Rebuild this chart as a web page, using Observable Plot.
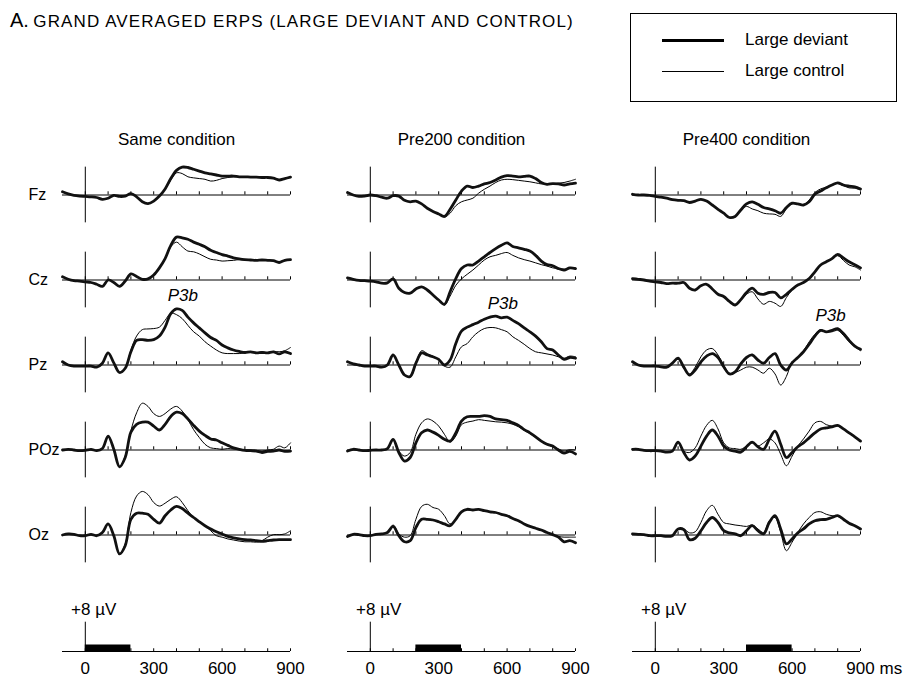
<!DOCTYPE html>
<html>
<head>
<meta charset="utf-8">
<script src="https://cdn.jsdelivr.net/npm/d3@7"></script>
<script src="https://cdn.jsdelivr.net/npm/@observablehq/plot@0.6"></script>
<style>
  body { margin: 0; background: #fff; }
  #chart { position: relative; width: 910px; height: 682px; font-family: "Liberation Sans", Arial, Helvetica, sans-serif; color: #000; overflow: hidden; }
  #title { position: absolute; left: 10px; top: 8px; white-space: nowrap; line-height: 24px; }
  #title .a { font-size: 20px; }
  #title .t { font-size: 17px; letter-spacing: 1.1px; }
  #legend { position: absolute; left: 630px; top: 13px; width: 267px; height: 89px; border: 1px solid #000; box-sizing: border-box; }
  #legend .row { position: absolute; left: 0; height: 20px; display: flex; align-items: center; font-size: 17px; white-space: nowrap; }
  #legend .sw { display: inline-block; width: 62px; margin-left: 31px; margin-right: 21px; border-top-style: solid; border-top-color: #000; }
  #chart svg { position: absolute; left: 0; }
</style>
</head>
<body>
<div id="chart">
  <div id="title"><span class="a">A.</span> <span class="t">GRAND AVERAGED ERPS (LARGE DEVIANT AND CONTROL)</span></div>
  <div id="legend">
    <div class="row" style="top:16px"><span class="sw" style="border-top-width:3px"></span>Large deviant</div>
    <div class="row" style="top:47px"><span class="sw" style="border-top-width:1px"></span>Large control</div>
  </div>
</div>
<script>
// ---- sampling grid (ms) ----
const times = [-100, -75, -50, -25, 0, 25, 50, 75, 100, 125, 150, 175, 200, 225, 250, 275, 300, 325, 350, 375, 400, 425, 450, 475, 500, 525, 550, 575, 600, 625, 650, 675, 700, 725, 750, 775, 800, 825, 850, 875, 900];

const conditions = ["Same condition", "Pre200 condition", "Pre400 condition"];
const electrodes = ["Fz", "Cz", "Pz", "POz", "Oz"];
const seriesNames = ["Large deviant", "Large control"];

// ---- Same condition (µV) ----
const sameFzDeviant = [0.9, 0.3, -0.1, -0.3, -0.4, -0.5, -0.7, -1.2, -0.9, -0.1, -0.4, -0.3, 0.4, -0.5, -1.9, -2.4, -1.7, -0.3, 1.7, 4.6, 6.9, 7.8, 7.7, 7.2, 6.7, 6.2, 5.9, 5.6, 5.3, 5.3, 5.3, 5.1, 5.1, 5.0, 5.0, 4.9, 4.9, 4.7, 4.2, 4.6, 5.0];
const sameFzControl = [0.9, 0.3, -0.1, -0.3, -0.4, -0.5, -0.7, -1.2, -0.9, -0.1, -0.4, -0.3, 0.4, -0.5, -1.9, -2.4, -1.7, -0.3, 1.5, 4.2, 6.2, 6.0, 5.1, 4.8, 4.6, 4.4, 3.9, 4.1, 4.6, 4.9, 5.1, 5.1, 5.1, 5.0, 5.0, 4.9, 4.9, 4.7, 4.3, 4.6, 5.0];
const sameCzDeviant = [0.9, 0.2, -0.2, -0.3, -0.5, -0.7, -1.2, -1.8, 0.0, -0.7, -1.8, -0.3, 1.7, 1.0, 0.2, 0.3, 1.4, 3.4, 6.0, 9.7, 12.0, 11.8, 11.4, 10.6, 10.0, 9.3, 8.3, 7.7, 7.1, 6.7, 6.2, 5.9, 5.7, 5.6, 5.5, 5.6, 5.5, 5.4, 4.9, 5.5, 5.7];
const sameCzControl = [0.9, 0.2, -0.2, -0.3, -0.5, -0.7, -1.2, -1.8, 0.0, -0.7, -1.8, -0.3, 1.7, 1.0, 0.2, 0.3, 1.4, 3.4, 5.8, 9.3, 10.6, 9.3, 8.1, 7.9, 7.3, 6.5, 5.8, 5.6, 5.3, 5.4, 5.5, 5.7, 5.6, 5.6, 5.5, 5.6, 5.5, 5.4, 5.0, 5.5, 5.7];
const samePzDeviant = [0.9, 0, -0.3, -0.3, -0.3, -0.3, -0.6, 0.5, 3.4, 0.6, -2.1, -0.9, 3.7, 6.9, 7.1, 6.9, 7.1, 8.1, 10.6, 14.4, 15.7, 15.3, 13.4, 11.8, 10.4, 9.0, 7.7, 6.9, 5.6, 4.8, 4.2, 3.8, 3.5, 3.7, 3.4, 3.5, 3.4, 3.7, 3.1, 3.7, 3.2];
const samePzControl = [0.9, 0, -0.3, -0.3, -0.3, -0.3, -0.6, 0.5, 3.4, 0.6, -2.1, -0.9, 4.2, 8.1, 9.9, 10.1, 10.2, 10.6, 12.5, 14.5, 14.1, 13.0, 11.1, 9.3, 8.1, 6.5, 5.3, 4.2, 3.4, 3.2, 3.2, 3.2, 3.4, 3.7, 3.4, 3.7, 3.4, 3.8, 3.7, 4.0, 4.9];
const samePOzDeviant = [0, 0.2, 0, -0.2, -0.1, 0.2, -0.2, 0.4, 3.9, 0.2, -4.7, -2.1, 5.0, 7.2, 7.8, 7.8, 6.7, 5.6, 7.2, 9.4, 10.6, 10.2, 8.7, 6.9, 5.3, 4.1, 3.1, 2.8, 2.0, 1.3, 0.6, 0.2, -0.1, -0.2, -0.3, -0.7, -0.4, -0.3, 0, -0.4, -0.3];
const samePOzControl = [0, 0.2, 0, -0.2, -0.1, 0.2, -0.2, 0.4, 3.9, 0.2, -4.7, -1.7, 5.4, 10.4, 13.1, 12.2, 10.2, 9.4, 10.2, 11.5, 12.2, 10.9, 8.5, 5.7, 3.5, 1.6, 0.6, 0.4, 0.2, 0.4, 0.3, 0.2, 0.1, 0, -0.1, -0.3, 0, 0.2, 1.1, 0.6, 2.0];
const sameOzDeviant = [0, 0.3, 0.2, -0.2, -0.2, 0.2, -0.2, 0.7, 3.1, -0.2, -5.3, -3.0, 4.4, 6.1, 6.1, 5.8, 4.4, 3.3, 5.4, 7.0, 8.0, 7.4, 6.1, 4.9, 3.7, 2.6, 1.7, 0.9, 0.3, -0.4, -0.8, -1.1, -1.3, -1.4, -1.6, -1.8, -1.6, -1.4, -1.3, -1.3, -1.3];
const sameOzControl = [0, 0.3, 0.2, -0.2, -0.2, 0.2, -0.2, 0.7, 3.1, -0.2, -5.3, -2.5, 6.3, 10.9, 12.2, 11.3, 9.1, 8.1, 8.9, 10.0, 10.7, 9.1, 6.8, 4.9, 3.7, 2.6, 1.2, -0.2, -0.6, -1.1, -1.4, -1.7, -1.9, -1.9, -2.0, -1.6, -0.6, 0.1, 0.1, 0.3, 1.2];

// ---- Pre200 condition (µV) ----
const pre200FzDeviant = [0.7, 0, -0.4, -0.3, 0, -0.2, -0.6, -0.9, -0.2, -0.3, -1.5, -1.9, -1.7, -2.5, -3.7, -4.6, -5.3, -6.0, -4.0, -1.4, 1.1, 2.5, 2.1, 2.5, 3.1, 3.5, 4.2, 5.0, 5.4, 5.3, 5.1, 5.2, 5.3, 4.6, 3.5, 3.0, 3.2, 3.1, 2.8, 3.1, 3.3];
const pre200FzControl = [0.7, 0, -0.4, -0.3, 0, -0.2, -0.6, -0.9, -0.2, -0.3, -1.5, -1.9, -1.7, -2.5, -3.7, -4.6, -5.3, -6.2, -5.1, -3.0, -1.9, -1.4, -0.9, 0.5, 1.6, 2.5, 3.5, 4.2, 4.4, 4.3, 4.1, 3.9, 3.7, 3.4, 3.1, 3.1, 3.1, 3.3, 3.5, 3.9, 4.4];
const pre200CzDeviant = [0.6, 0.2, -0.1, -0.2, -0.3, -0.5, -0.9, -0.8, 0.3, -2.3, -3.5, -3.7, -2.5, -1.9, -2.8, -4.2, -5.6, -6.8, -3.3, 0.4, 3.2, 4.2, 4.2, 5.3, 6.5, 7.7, 8.8, 9.7, 10.4, 9.4, 9.0, 8.6, 8.1, 6.9, 5.3, 4.3, 4.0, 3.2, 2.8, 3.4, 3.2];
const pre200CzControl = [0.6, 0.2, -0.1, -0.2, -0.3, -0.5, -0.9, -0.8, 0.3, -2.3, -3.5, -3.7, -2.5, -1.9, -2.8, -4.2, -5.7, -7.0, -4.5, -1.5, 0.3, 1.6, 2.8, 4.2, 5.6, 6.5, 6.9, 7.4, 7.7, 6.9, 6.2, 5.7, 5.3, 4.8, 4.3, 3.9, 3.4, 3.2, 3.0, 3.2, 3.4];
const pre200PzDeviant = [0.9, 0.3, 0, -0.3, -0.3, -0.3, -0.6, 0, 2.8, 0, -2.8, -3.2, 0.5, 3.4, 2.8, 2.3, 1.6, 0, 1.4, 6.0, 9.5, 10.6, 11.3, 12.0, 12.8, 13.4, 13.7, 13.2, 13.4, 12.5, 11.6, 10.4, 9.3, 8.1, 6.5, 4.6, 4.2, 2.8, 1.6, 2.1, 1.9];
const pre200PzControl = [0.9, 0.3, 0, -0.3, -0.3, -0.3, -0.6, 0, 2.8, 0, -2.8, -3.4, 0.3, 4.0, 3.2, 2.4, 1.6, -0.3, -0.6, 2.3, 5.1, 6.0, 7.9, 9.3, 10.2, 10.5, 10.4, 9.9, 9.3, 7.9, 6.9, 5.8, 4.6, 3.7, 3.4, 3.1, 2.8, 2.3, 1.9, 2.5, 2.3];
const pre200POzDeviant = [-0.3, 0.2, 0, -0.2, -0.1, 0, 0, 0.4, 3.0, -0.7, -3.1, -2.1, 2.0, 4.8, 5.6, 5.0, 4.1, 3.0, 2.5, 4.8, 8.1, 9.3, 9.4, 9.4, 9.6, 9.4, 8.7, 8.5, 8.3, 7.6, 6.9, 5.7, 4.8, 3.7, 2.5, 1.6, 1.1, 0, -0.9, -0.4, -1.1];
const pre200POzControl = [-0.3, 0.2, 0, -0.2, -0.1, 0, 0, 0.4, 2.8, -0.3, -1.7, -0.7, 4.4, 7.6, 8.7, 8.1, 6.7, 4.4, 2.2, 3.9, 7.1, 7.8, 8.1, 8.5, 8.3, 8.1, 7.9, 7.8, 7.6, 7.2, 6.5, 5.5, 4.6, 3.5, 2.4, 1.6, 1.0, 0.3, -0.3, 0.1, 0];
const pre200OzDeviant = [-0.4, 0.2, 0.1, -0.2, -0.2, 0.2, 0.3, 0.7, 2.4, -0.2, -1.9, -1.6, 2.1, 4.4, 4.4, 4.2, 3.7, 3.1, 2.6, 4.4, 6.5, 7.2, 7.0, 7.2, 6.8, 6.5, 6.3, 5.8, 5.4, 4.6, 4.0, 3.1, 2.4, 1.9, 1.4, 0.7, 0.1, -0.6, -1.9, -1.6, -2.2];
const pre200OzControl = [-0.4, 0.2, 0.1, -0.2, -0.2, 0.2, 0.3, 0.7, 2.8, 0.3, -0.6, -0.2, 4.4, 8.0, 8.6, 7.7, 7.2, 5.4, 3.1, 4.4, 6.5, 7.0, 7.0, 7.2, 6.8, 6.5, 6.3, 5.8, 5.4, 4.6, 4.0, 3.1, 2.4, 1.9, 1.4, 0.7, 0.1, -0.4, -0.6, -0.6, -0.6];

// ---- Pre400 condition (µV) ----
const pre400FzDeviant = [0.2, 0, 0, -0.1, -0.4, -0.6, -0.9, -1.3, -1.5, -1.6, -2.1, -1.7, -1.2, -1.7, -2.8, -4.0, -5.1, -6.3, -6.0, -4.2, -2.5, -1.9, -2.6, -3.5, -3.9, -4.4, -5.1, -3.5, -2.3, -2.5, -2.8, -1.9, 0.2, 1.1, 2.0, 2.8, 3.4, 2.8, 2.5, 2.3, 1.7];
const pre400FzControl = [0.2, 0, 0, -0.1, -0.4, -0.6, -0.9, -1.3, -1.5, -1.6, -2.1, -1.7, -1.2, -1.7, -2.8, -4.0, -5.1, -6.3, -6.0, -4.2, -3.2, -3.9, -4.4, -5.1, -5.3, -5.4, -6.0, -3.9, -2.5, -2.5, -2.8, -1.4, 0.7, 1.7, 2.2, 2.8, 3.2, 2.6, 2.0, 1.9, 1.4];
const pre400CzDeviant = [0.4, 0.2, 0, -0.3, -0.5, -0.7, -1.0, -0.9, -0.9, -0.7, -2.3, -2.8, -1.6, -1.2, -2.5, -4.0, -4.6, -6.0, -7.0, -5.5, -3.5, -2.3, -3.7, -4.0, -3.5, -3.5, -5.0, -4.0, -2.6, -1.4, -0.7, 0.4, 2.3, 4.2, 5.1, 6.0, 7.2, 6.2, 5.1, 4.3, 3.4];
const pre400CzControl = [0.4, 0.2, 0, -0.3, -0.5, -0.7, -1.0, -0.9, -0.9, -0.7, -2.3, -2.8, -1.6, -1.2, -2.5, -4.0, -4.6, -6.0, -7.0, -5.7, -4.0, -3.3, -5.3, -6.8, -6.0, -6.5, -7.4, -4.9, -2.8, -1.4, -0.7, 0.4, 2.3, 4.2, 5.1, 6.0, 6.8, 5.5, 4.2, 3.7, 2.8];
const pre400PzDeviant = [0.9, 0, -0.3, -0.3, -0.3, -0.5, -0.6, 0.5, 1.9, -0.6, -2.8, -1.4, 0.9, 2.5, 3.2, 2.1, -0.5, -2.5, -1.9, 0.3, 2.1, 2.8, 1.4, 0.5, 2.1, 3.2, 0, -1.4, 0.6, 2.1, 3.7, 5.8, 8.1, 9.7, 9.3, 9.7, 10.2, 8.8, 6.9, 5.3, 4.4];
const pre400PzControl = [0.9, 0, -0.3, -0.3, -0.3, -0.5, -0.6, 0.5, 1.6, -0.9, -2.5, -0.6, 2.3, 4.2, 4.6, 2.8, 0, -2.3, -2.1, -1.4, -0.6, -0.6, -1.4, -2.3, -0.9, -2.5, -5.6, -3.2, 0.9, 2.1, 4.0, 6.5, 8.6, 9.9, 9.3, 9.3, 9.7, 8.3, 6.5, 5.1, 4.0];
const pre400POzDeviant = [0.2, 0.2, -0.1, -0.2, -0.2, -0.3, -0.6, -0.3, 2.2, -0.7, -2.8, -1.7, 1.1, 3.9, 5.6, 3.9, 1.1, 0, -0.3, -0.6, 0.9, 2.2, 0.9, 0.2, 3.0, 5.3, 1.6, -2.1, -0.7, 0.9, 2.0, 3.4, 4.8, 5.9, 6.2, 6.5, 6.9, 5.9, 4.8, 3.7, 2.5];
const pre400POzControl = [0.2, 0.2, -0.1, -0.2, -0.2, -0.3, -0.6, -0.3, 2.0, -0.3, -0.7, 0.6, 3.9, 6.9, 8.3, 5.9, 2.0, 0.6, 0.4, 0.2, 1.1, 2.0, 1.1, 2.0, 3.1, 2.0, -1.2, -4.4, -1.7, 1.1, 3.1, 5.3, 7.6, 8.0, 7.1, 6.7, 6.7, 5.9, 4.8, 3.7, 2.5];
const pre400OzDeviant = [0.3, 0.2, 0.1, -0.2, -0.2, -0.2, -0.4, -0.2, 1.7, 1.5, -1.3, -0.9, 1.2, 3.5, 4.9, 3.5, 1.2, 0.6, 0.3, -0.2, 1.2, 2.6, 1.2, 0.3, 3.5, 5.4, 1.7, -2.5, -1.1, 0.6, 1.7, 3.1, 4.0, 4.3, 4.4, 4.9, 5.4, 4.4, 3.3, 2.6, 1.7];
const pre400OzControl = [0.3, 0.2, 0.1, -0.2, -0.2, -0.2, -0.4, -0.2, 1.7, 1.7, 0.6, 0.9, 3.5, 6.8, 8.3, 5.8, 3.5, 3.1, 2.8, 2.6, 2.4, 2.8, 1.7, 0.7, 4.0, 4.9, 0.7, -4.4, -2.0, 0.7, 3.1, 4.9, 6.3, 6.5, 5.8, 5.4, 5.2, 4.3, 3.3, 2.6, 1.7];

// ---- axis ticks, annotations ----
const msTicks = [0, 100, 200, 300, 400, 500, 600, 700, 800, 900];
const tickValues = [0, 300, 600, 900];
const tickLabels = ["0", "300", "600", "900"];
const unitLabel = "ms";
const scaleLabel = "+8 µV";
const scaleValue = 8;
const stimStart = [0, 200, 400];
const stimEnd = [200, 400, 600];
const p3bLabel = "P3b";
const p3bTimes = [428, 581, 769];
const p3bValues = [19.4, 17.3, 13.9];

// ---- build tidy table from the named arrays ----
const panels = [
  [0, 0, sameFzDeviant, sameFzControl], [0, 1, sameCzDeviant, sameCzControl], [0, 2, samePzDeviant, samePzControl], [0, 3, samePOzDeviant, samePOzControl], [0, 4, sameOzDeviant, sameOzControl],
  [1, 0, pre200FzDeviant, pre200FzControl], [1, 1, pre200CzDeviant, pre200CzControl], [1, 2, pre200PzDeviant, pre200PzControl], [1, 3, pre200POzDeviant, pre200POzControl], [1, 4, pre200OzDeviant, pre200OzControl],
  [2, 0, pre400FzDeviant, pre400FzControl], [2, 1, pre400CzDeviant, pre400CzControl], [2, 2, pre400PzDeviant, pre400PzControl], [2, 3, pre400POzDeviant, pre400POzControl], [2, 4, pre400OzDeviant, pre400OzControl]
];
const rows = [];
for (const [c, e, dev, ctl] of panels) {
  [dev, ctl].forEach((arr, s) => {
    arr.forEach((v, i) => rows.push({cond: conditions[c], elec: electrodes[e], series: seriesNames[s], key: conditions[c] + electrodes[e] + s, t: times[i], v}));
  });
}
const deviantRows = rows.filter(d => d.series === seriesNames[0]);
const controlRows = rows.filter(d => d.series === seriesNames[1]);
const p3b = conditions.map((c, i) => ({cond: c, elec: "Pz", t: p3bTimes[i], v: p3bValues[i]}));
const stimuli = conditions.map((c, i) => ({cond: c, start: stimStart[i], end: stimEnd[i]}));

const font = "'Liberation Sans', Arial, Helvetica, sans-serif";
const chart = document.getElementById("chart");

const main = Plot.plot({
  width: 910, height: 600,
  marginTop: 150.15, marginBottom: 21.35, marginLeft: 62, marginRight: 50,
  style: {fontFamily: font, fontSize: "17px", background: "transparent", overflow: "visible"},
  x: {domain: [-100, 900], axis: null},
  y: {domain: [-11.9, 11.9], axis: null},
  fx: {domain: conditions, padding: 0.2, axis: null},
  fy: {domain: electrodes, padding: 0, axis: null},
  marks: [
    Plot.ruleY([0], {x1: -100, x2: 900, stroke: "#000", strokeWidth: 1}),
    Plot.ruleX(msTicks, {y1: 0, y2: 0.9, stroke: "#000", strokeWidth: 1}),
    Plot.ruleX([0], {y1: -7.8, y2: 7.8, stroke: "#000", strokeWidth: 1}),
    Plot.line(controlRows, {x: "t", y: "v", z: "key", fx: "cond", fy: "elec", curve: "catmull-rom", stroke: "#000", strokeWidth: 1}),
    Plot.line(deviantRows, {x: "t", y: "v", z: "key", fx: "cond", fy: "elec", curve: "catmull-rom", stroke: "#111", strokeWidth: 2.8}),
    Plot.text(p3b, {x: "t", y: "v", fx: "cond", fy: "elec", text: () => p3bLabel, fontStyle: "italic", fontSize: 17, fill: "#000"}),
    Plot.text(electrodes, {fy: d => d, fx: () => conditions[0], text: d => d, frameAnchor: "left", lineAnchor: "middle", dx: -34, textAnchor: "start", fontSize: 16, fill: "#000"}),
    Plot.text(conditions, {fx: d => d, fy: () => electrodes[0], text: d => d, frameAnchor: "top", lineAnchor: "middle", dy: -13, fontSize: 17, fill: "#000"})
  ]
});
main.style.top = "0px";
chart.appendChild(main);

const bottom = Plot.plot({
  width: 910, height: 92,
  marginTop: 31.7, marginBottom: 31, marginLeft: 62, marginRight: 50,
  style: {fontFamily: font, fontSize: "17px", background: "transparent", overflow: "visible"},
  x: {domain: [-100, 900], axis: null},
  y: {domain: [0, scaleValue], axis: null},
  fx: {domain: conditions, padding: 0.2, axis: null},
  marks: [
    Plot.ruleY([0], {x1: -100, x2: 900, stroke: "#000", strokeWidth: 1}),
    Plot.ruleX(msTicks, {y1: 0, y2: 0.75, stroke: "#000", strokeWidth: 1}),
    Plot.ruleY(stimuli, {fx: "cond", x1: "start", x2: "end", y: 0, stroke: "#000", strokeWidth: 7, dy: -3.5}),
    Plot.ruleX([0], {y1: 0, y2: scaleValue, stroke: "#000", strokeWidth: 1}),
    Plot.text([scaleLabel], {x: 0, y: scaleValue, text: d => d, dx: 8.4, dy: -13, lineAnchor: "middle", fontSize: 17, fill: "#000"}),
    Plot.text(tickValues, {x: d => d, text: (d, i) => tickLabels[i], frameAnchor: "bottom", lineAnchor: "middle", dy: 17, fontSize: 17, fill: "#000"}),
    Plot.text([unitLabel], {fx: () => conditions[2], x: () => 900, text: d => d, frameAnchor: "bottom", lineAnchor: "middle", dy: 17, dx: 19, textAnchor: "start", fontSize: 17, fill: "#000"})
  ]
});
bottom.style.top = "590px";
chart.appendChild(bottom);
</script>
</body>
</html>
